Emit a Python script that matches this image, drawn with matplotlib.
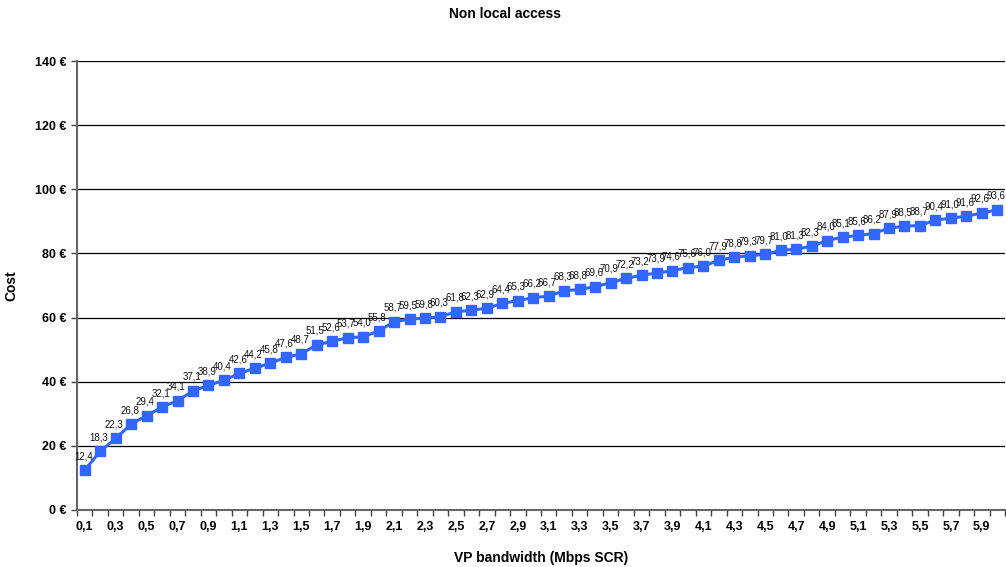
import matplotlib
matplotlib.use("Agg")
import matplotlib.pyplot as plt
import numpy as np

plt.rcParams['font.family'] = ['Liberation Sans', 'DejaVu Sans']

bandwidth = [round(0.1 * i, 1) for i in range(1, 61)]
cost = [12.4, 18.3, 22.3, 26.8, 29.4, 32.1, 34.1, 37.1, 38.9, 40.4,
        42.6, 44.2, 45.8, 47.6, 48.7, 51.5, 52.6, 53.7, 54.0, 55.8,
        58.7, 59.5, 59.8, 60.3, 61.8, 62.3, 62.9, 64.4, 65.3, 66.2,
        66.7, 68.3, 68.8, 69.6, 70.9, 72.2, 73.2, 73.9, 74.6, 75.6,
        76.0, 77.9, 78.8, 79.3, 79.7, 81.0, 81.3, 82.3, 84.0, 85.1,
        85.6, 86.2, 87.9, 88.5, 88.7, 90.4, 91.0, 91.6, 92.6, 93.6]
y_ticks = [0, 20, 40, 60, 80, 100, 120, 140]

fig = plt.figure(figsize=(10.06, 5.67), dpi=100)
ax = fig.add_axes([77/1006, 1 - 510/567, (1005 - 77)/1006, (510 - 61)/567])

x = np.arange(len(cost))
ax.plot(x, cost, color='#3366FF', lw=2.2, marker='s', markersize=7.5,
        markeredgecolor='#3366FF', zorder=3, clip_on=False)

for xi, v in zip(x, cost):
    ax.annotate(f"{v:.1f}".replace('.', ','), (xi, v), xytext=(-1, 6.5),
                textcoords='offset points', ha='center', va='bottom',
                fontsize=7, color='#111111', zorder=4, annotation_clip=False)

ax.set_xlim(-0.5, len(cost) - 0.5)
ax.set_ylim(0, 140)
ax.set_yticks(y_ticks)
ax.set_yticklabels([f"{t} €" for t in y_ticks], fontsize=9, fontweight='bold')
ax.yaxis.grid(True, color='black', lw=0.9)
ax.set_axisbelow(True)

ax.set_xticks(x[::2])
ax.set_xticklabels([f"{b:.1f}".replace('.', ',') for b in bandwidth[::2]],
                   fontsize=9, fontweight='bold')
ax.set_xticks(np.arange(-0.5, len(cost), 1), minor=True)
ax.tick_params(axis='x', which='major', length=0, pad=8)
ax.tick_params(axis='x', which='minor', length=4, width=1, color='#444444')
ax.tick_params(axis='y', length=4, width=1, color='#444444')

for s in ['top', 'right']:
    ax.spines[s].set_visible(False)
ax.spines['left'].set_color('#666666')
ax.spines['left'].set_linewidth(1.5)
ax.spines['bottom'].set_color('#666666')
ax.spines['bottom'].set_linewidth(1.5)

ax.set_xlabel('VP bandwidth (Mbps SCR)', fontsize=10, fontweight='bold', labelpad=13)
ax.set_ylabel('Cost', fontsize=10, fontweight='bold', labelpad=12)
fig.text(505/1006, 1 - 14/567, 'Non local access', ha='center', va='center',
         fontsize=10, fontweight='bold')

fig.savefig('out.png', dpi=100)
